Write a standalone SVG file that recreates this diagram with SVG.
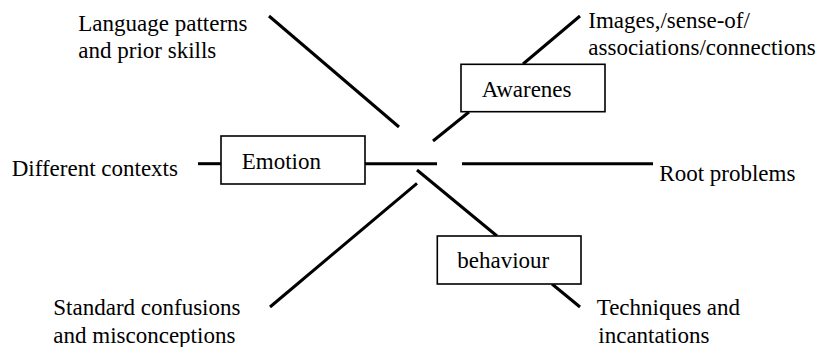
<svg xmlns="http://www.w3.org/2000/svg" width="828" height="347" viewBox="0 0 828 347">
<style>
.box{fill:#fff;stroke:#000;stroke-width:1.6}
.ln{stroke:#000;stroke-width:3;fill:none}
</style>
<rect width="828" height="347" fill="#fff"/>
<g id="connectors">
<line class="ln" x1="269" y1="16" x2="399" y2="127"/>
<line class="ln" x1="433" y1="141" x2="469" y2="112"/>
<line class="ln" x1="523" y1="64" x2="580" y2="16"/>
<line class="ln" x1="462" y1="163.7" x2="653" y2="163.7"/>
<line class="ln" x1="365" y1="163.7" x2="437" y2="163.7"/>
<line class="ln" x1="198" y1="163.7" x2="221" y2="163.7"/>
<line class="ln" x1="417" y1="170" x2="497" y2="236"/>
<line class="ln" x1="552" y1="284" x2="580" y2="307"/>
<line class="ln" x1="417" y1="183.3" x2="270" y2="307"/>
</g>
<g font-family="'Times New Roman', 'Liberation Serif', Tinos, serif" font-size="23" fill="#000">
<g id="emotion">
<rect class="box" x="221" y="136" width="144" height="48"/>
<text x="241.7" y="168.5">Emotion</text>
</g>
<g id="awarenes">
<rect class="box" x="461" y="64.3" width="144" height="47.4"/>
<text x="481.7" y="96.7">Awarenes</text>
</g>
<g id="behaviour">
<rect class="box" x="437.3" y="236" width="143.7" height="48"/>
<text x="457.3" y="268.3">behaviour</text>
</g>
<g id="language">
<text x="78.3" y="30.7">Language patterns</text>
<text x="78.3" y="58.3">and prior skills</text>
</g>
<g id="images">
<text x="588.3" y="27.5">Images,/sense-of/</text>
<text x="588.3" y="55">associations/connections</text>
</g>
<g id="different">
<text x="11.7" y="176">Different contexts</text>
</g>
<g id="root">
<text x="659.3" y="180.5">Root problems</text>
</g>
<g id="standard">
<text x="53.3" y="315">Standard confusions</text>
<text x="53.3" y="343">and misconceptions</text>
</g>
<g id="techniques">
<text x="596.7" y="315">Techniques and</text>
<text x="598.3" y="343">incantations</text>
</g>
</g>
</svg>
